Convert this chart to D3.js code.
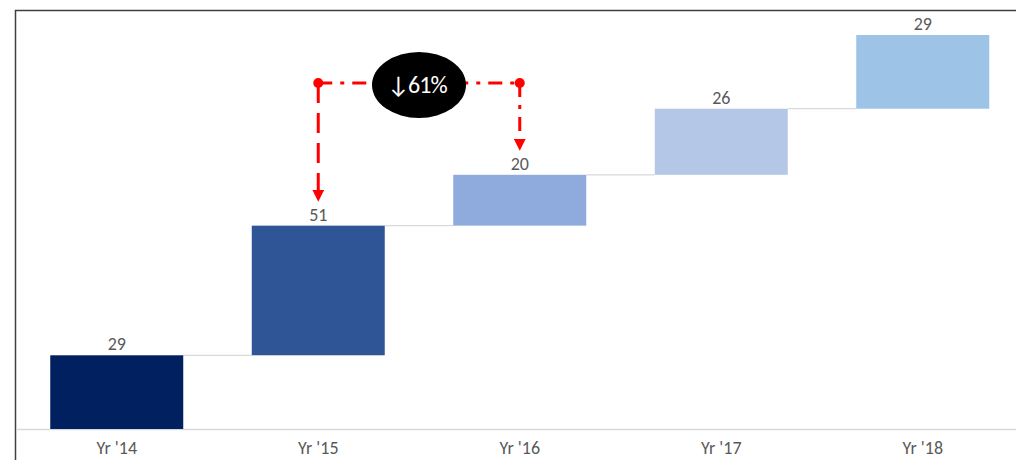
<!DOCTYPE html>
<html>
<head>
<meta charset="utf-8">
<script src="https://cdn.jsdelivr.net/npm/d3@7"></script>
<style>
  html, body { margin: 0; padding: 0; background: #fff; }
  svg { display: block; font-family: Calibri, Carlito, "Liberation Sans", "DejaVu Sans", sans-serif; }
</style>
</head>
<body>
<svg id="chart" width="1016" height="460"></svg>
<script>
// Yearly increments, stacked as a waterfall
const categories = ["Yr '14", "Yr '15", "Yr '16", "Yr '17", "Yr '18"];
const values = [29, 51, 20, 26, 29];
const barColors = ["#002060", "#2F5597", "#8FAADC", "#B4C7E7", "#9DC3E6"];
const changeLabel = "\u219361%";
const changeFrom = 1, changeTo = 2;

const svg = d3.select("#chart");
const W = 1016, H = 460;

// running totals for the floating bars
let acc = 0;
const bars = values.map((v, i) => {
  const start = acc;
  acc += v;
  return { cat: categories[i], value: v, start, end: acc, color: barColors[i] };
});

const x = d3.scaleBand().domain(categories).range([16, 1023.5]).paddingInner(0.34).paddingOuter(0.17);
const y = d3.scaleLinear().domain([0, d3.max(bars, d => d.end)]).range([429, 35]);

// outer frame (left and top edges)
svg.append("path")
  .attr("d", `M15.5,${H} V10.5 H${W}`)
  .attr("fill", "none").attr("stroke", "#404040").attr("stroke-width", 1.5);

// connector lines between steps
svg.append("g").selectAll("line").data(bars.slice(0, -1)).join("line")
  .attr("x1", d => x(d.cat) + x.bandwidth())
  .attr("x2", (d, i) => x(bars[i + 1].cat))
  .attr("y1", d => y(d.end)).attr("y2", d => y(d.end))
  .attr("stroke", "#d9d9d9").attr("stroke-width", 1.3);

// category axis
const axis = svg.append("g").attr("transform", `translate(0,${y(0)})`)
  .call(d3.axisBottom(x).tickSize(0).tickPadding(12));
axis.select(".domain").attr("stroke", "#d9d9d9").attr("stroke-width", 1.3);
axis.selectAll("text").attr("font-size", 18).attr("fill", "#595959")
  .attr("font-family", "Calibri, Carlito, 'Liberation Sans', sans-serif");

// bars
svg.append("g").selectAll("rect").data(bars).join("rect")
  .attr("x", d => x(d.cat)).attr("width", x.bandwidth())
  .attr("y", d => y(d.end)).attr("height", d => y(d.start) - y(d.end))
  .attr("fill", d => d.color);

// value labels
svg.append("g").selectAll("text").data(bars).join("text")
  .attr("x", d => x(d.cat) + x.bandwidth() / 2)
  .attr("y", d => y(d.end) - 5)
  .attr("text-anchor", "middle")
  .attr("font-size", 18).attr("fill", "#595959")
  .text(d => d.value);

// change annotation between two years
const ax1 = x(categories[changeFrom]) + x.bandwidth() / 2;
const ax2 = x(categories[changeTo]) + x.bandwidth() / 2;
const ay = 83;
const red = "#FF0000";

svg.append("defs").append("marker")
  .attr("id", "arrow").attr("viewBox", "0 0 10 10")
  .attr("refX", 10).attr("refY", 5)
  .attr("markerWidth", 4).attr("markerHeight", 4)
  .attr("markerUnits", "strokeWidth")
  .attr("orient", "auto")
  .append("path").attr("d", "M0,0 L10,5 L0,10 Z").attr("fill", red);

const ann = svg.append("g");
ann.append("line")
  .attr("x1", ax1).attr("x2", ax2).attr("y1", ay).attr("y2", ay)
  .attr("stroke", red).attr("stroke-width", 3)
  .attr("stroke-dasharray", "14,8,4,8");
ann.append("line")
  .attr("x1", ax1).attr("x2", ax1).attr("y1", ay).attr("y2", y(bars[changeFrom].end) - 24)
  .attr("stroke", red).attr("stroke-width", 3)
  .attr("stroke-dasharray", "20,10")
  .attr("marker-end", "url(#arrow)");
ann.append("line")
  .attr("x1", ax2).attr("x2", ax2).attr("y1", ay).attr("y2", y(bars[changeTo].end) - 24)
  .attr("stroke", red).attr("stroke-width", 3)
  .attr("stroke-dasharray", "14,8,4,8")
  .attr("marker-end", "url(#arrow)");
ann.selectAll("circle").data([ax1, ax2]).join("circle")
  .attr("cx", d => d).attr("cy", ay).attr("r", 5).attr("fill", red);

const ex = (ax1 + ax2) / 2;
ann.append("ellipse")
  .attr("cx", ex).attr("cy", 85).attr("rx", 47).attr("ry", 33)
  .attr("fill", "#000");
ann.append("text")
  .attr("x", ex - 2).attr("y", 93)
  .attr("text-anchor", "middle")
  .attr("font-size", 24).attr("fill", "#fff")
  .attr("letter-spacing", -1)
  .text(changeLabel);
</script>
</body>
</html>
